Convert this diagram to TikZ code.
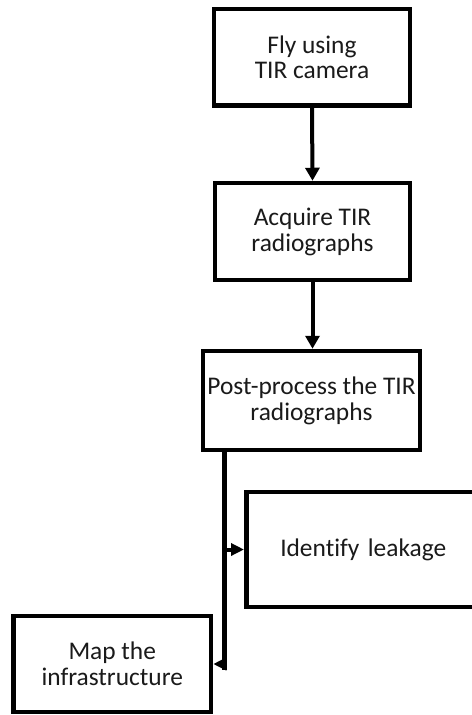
\documentclass[tikz,border=0pt]{standalone}
\usepackage{fontspec}
\setmainfont{Carlito}[Ligatures=NoCommon]
\usetikzlibrary{arrows.meta}
\definecolor{inktext}{HTML}{1A1A1A}
\begin{document}
\begin{tikzpicture}[x=1bp,y=-1bp,
  stepbox/.style={draw=black, line width=4.5bp, fill=white, align=center,
    inner sep=0pt, text=inktext, font=\fontsize{25.5}{26}\selectfont},
  flow/.style={line width=4bp, -{Triangle[width=14bp,length=13bp]}},
  sideflow/.style={line width=4bp, -{Triangle[width=12bp,length=13bp]}}]
  \useasboundingbox (0,0) rectangle (472,715);
  % process steps
  \node[stepbox, minimum width=196bp, minimum height=96.5bp] (fly) at (312,57.25) {Fly using\\TIR camera};
  \node[stepbox, minimum width=195bp, minimum height=97bp] (acq) at (312.5,231.5) {Acquire TIR\\radiographs};
  \node[stepbox, minimum width=217bp, minimum height=99bp] (post) at (311.5,400.5) {Post-process the TIR\\radiographs};
  \node[stepbox, minimum width=234bp, minimum height=115bp, text width=234bp] (leak) at (363.25,549.5) {Identify leakage};
  \node[stepbox, minimum width=197.5bp, minimum height=96bp] (map) at (112.25,664) {Map the\\infrastructure};
  % trunk below the post-processing step
  \coordinate (split) at (224.5,670);
  % connectors
  \draw[flow] (fly.south) -- (acq.north);
  \draw[flow] (acq.south) -- (acq.south |- post.north);
  \draw[line width=4.5bp] (post.south -| split) -- (split);
  \draw[sideflow] (split |- leak.west) -- (leak.west);
  \draw[sideflow] (split |- map.east) -- (map.east);
\end{tikzpicture}
\end{document}
